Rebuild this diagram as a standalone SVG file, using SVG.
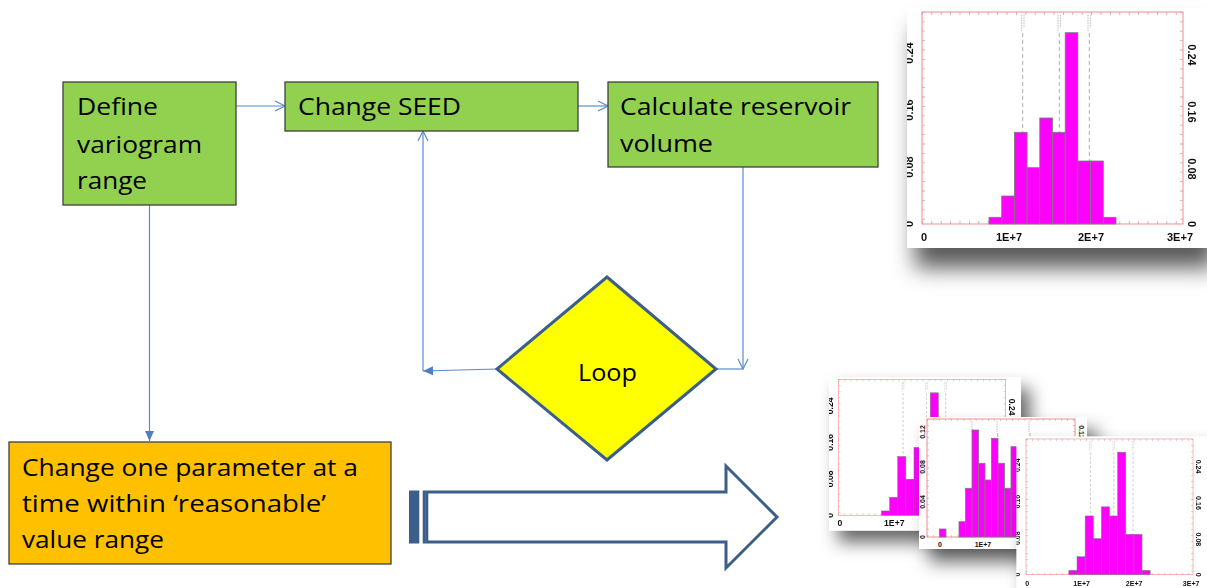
<svg xmlns="http://www.w3.org/2000/svg" xmlns:xlink="http://www.w3.org/1999/xlink" width="1207" height="588" viewBox="0 0 1207 588">
<style>
.box{stroke:#404040;stroke-width:1.3}
.green{fill:#92D050}
.orange{fill:#FFC000}
.lbl{font-family:"Open Sans","Liberation Sans",sans-serif;font-size:23px;fill:#000}
.conn{fill:none;stroke:#5B8BC9;stroke-width:1.2}
.card{fill:#fff}
.frame{fill:none;stroke:#F28C8C;stroke-width:1}
.tk{stroke:#C9A3A3;stroke-width:3;stroke-dasharray:0.8 8.6}
.bar{fill:#FF00FF;stroke:#7a7a7a;stroke-width:0.8}
.dash{stroke:#A8A8A8;stroke-width:0.9;stroke-dasharray:4 3}
.fuzz{stroke:#C8C8C8;stroke-width:1.2;stroke-dasharray:1.5 1}
.ax{font-family:"Liberation Sans",Arial,sans-serif;font-weight:bold;fill:#111}
.axs{font-family:"Liberation Sans",Arial,sans-serif;font-weight:bold;font-size:7px;fill:#111}
</style>
<defs>
<marker id="open" markerUnits="userSpaceOnUse" markerWidth="12" markerHeight="12" viewBox="-1 -6 12 12" refX="10" refY="0" orient="auto">
<path d="M0,-5 L10,0 L0,5" fill="none" stroke="#5B8BC9" stroke-width="1.2"/>
</marker>
<marker id="solid" markerUnits="userSpaceOnUse" markerWidth="12" markerHeight="12" viewBox="-1 -6 12 12" refX="10" refY="0" orient="auto">
<path d="M0,-4.5 L10,0 L0,4.5 Z" fill="#4F7FBE"/>
</marker>
<filter id="shadow" x="-20%" y="-20%" width="170%" height="170%">
<feDropShadow dx="10" dy="13" stdDeviation="9" flood-color="#000" flood-opacity="0.6"/>
</filter>
<filter id="shadowS" x="-20%" y="-20%" width="170%" height="170%">
<feDropShadow dx="14" dy="18" stdDeviation="13" flood-color="#000" flood-opacity="0.6"/>
</filter>
<filter id="shadowT" x="-20%" y="-20%" width="170%" height="170%">
<feDropShadow dx="8" dy="20" stdDeviation="11" flood-color="#000" flood-opacity="0.65"/>
</filter>
<clipPath id="cardclip"><rect x="0" y="0" width="300" height="240"/></clipPath>
<g id="hist1">
<rect class="card" x="0" y="0" width="300" height="240"/>
<g clip-path="url(#cardclip)">
<text class="ax" text-anchor="middle" transform="translate(6,45) rotate(-90)">0.24</text>
<text class="ax" text-anchor="middle" transform="translate(6,102) rotate(-90)">0.16</text>
<text class="ax" text-anchor="middle" transform="translate(6,159) rotate(-90)">0.08</text>
<text class="ax" text-anchor="middle" transform="translate(6,216) rotate(-90)">0</text>
</g>
<line class="tk" x1="15" y1="5.5" x2="276" y2="5.5"/>
<line class="tk" x1="15" y1="214.5" x2="276" y2="214.5"/>
<line class="tk" x1="16.5" y1="4" x2="16.5" y2="216"/>
<line class="tk" x1="274.5" y1="4" x2="274.5" y2="216"/>
<rect class="frame" x="15" y="4" width="261" height="212"/>
<line class="fuzz" x1="114.5" y1="7" x2="114.5" y2="23"/>
<line class="fuzz" x1="117" y1="7" x2="117" y2="20"/>
<line class="fuzz" x1="151" y1="7" x2="151" y2="23"/>
<line class="fuzz" x1="153.5" y1="7" x2="153.5" y2="20"/>
<line class="fuzz" x1="181" y1="7" x2="181" y2="23"/>
<line class="fuzz" x1="183.5" y1="7" x2="183.5" y2="20"/>
<line class="dash" x1="115.7" y1="25" x2="115.7" y2="216"/>
<line class="dash" x1="152.3" y1="25" x2="152.3" y2="216"/>
<line class="dash" x1="182.3" y1="25" x2="182.3" y2="216"/>
<rect class="bar" x="82" y="209.3" width="12.7" height="6.7"/>
<rect class="bar" x="94.7" y="188" width="12.7" height="28"/>
<rect class="bar" x="107.4" y="124.3" width="12.7" height="91.7"/>
<rect class="bar" x="120.1" y="159.7" width="12.7" height="56.3"/>
<rect class="bar" x="132.8" y="110" width="12.7" height="106"/>
<rect class="bar" x="145.5" y="124.3" width="12.7" height="91.7"/>
<rect class="bar" x="158.2" y="24.7" width="12.7" height="191.3"/>
<rect class="bar" x="170.9" y="153" width="12.7" height="63"/>
<rect class="bar" x="183.6" y="153" width="12.7" height="63"/>
<rect class="bar" x="196.3" y="209.3" width="12.7" height="6.7"/>
<text class="ax" text-anchor="middle" transform="translate(281,47) rotate(90)">0.24</text>
<text class="ax" text-anchor="middle" transform="translate(281,104) rotate(90)">0.16</text>
<text class="ax" text-anchor="middle" transform="translate(281,161) rotate(90)">0.08</text>
<text class="ax" text-anchor="middle" transform="translate(281,216) rotate(90)">0</text>
<text class="ax" text-anchor="middle" x="17" y="233">0</text>
<text class="ax" text-anchor="middle" x="102" y="233">1E+7</text>
<text class="ax" text-anchor="middle" x="184" y="233">2E+7</text>
<text class="ax" text-anchor="middle" x="273" y="233">3E+7</text>
</g>
</defs>

<g id="connectors">
<path class="conn" d="M236,106 H285" marker-end="url(#open)"/>
<path class="conn" d="M578,106 H608" marker-end="url(#open)"/>
<path class="conn" d="M149.5,205 V441" marker-end="url(#solid)"/>
<path class="conn" d="M743,167 V369" marker-end="url(#open)"/>
<path class="conn" d="M716,369 H743"/>
<path class="conn" d="M497,369 L423,371" marker-end="url(#solid)"/>
<path class="conn" d="M423,371 V131" marker-end="url(#open)"/>
</g>

<g id="node-define">
<rect class="box green" x="63" y="82" width="173" height="123"/>
<text class="lbl" x="77" y="115" textLength="81" lengthAdjust="spacingAndGlyphs">Define</text>
<text class="lbl" x="77" y="153" textLength="125" lengthAdjust="spacingAndGlyphs">variogram</text>
<text class="lbl" x="77" y="189" textLength="70" lengthAdjust="spacingAndGlyphs">range</text>
</g>

<g id="node-seed">
<rect class="box green" x="285" y="82" width="293" height="49"/>
<text class="lbl" x="298" y="115" textLength="163" lengthAdjust="spacingAndGlyphs">Change SEED</text>
</g>

<g id="node-calc">
<rect class="box green" x="608" y="82" width="270" height="85"/>
<text class="lbl" x="620" y="115" textLength="231" lengthAdjust="spacingAndGlyphs">Calculate reservoir</text>
<text class="lbl" x="620" y="152" textLength="93" lengthAdjust="spacingAndGlyphs">volume</text>
</g>

<g id="node-loop">
<polygon points="607,277 716,369 607,460 497,369" fill="#FFFF00" stroke="#3B5F8A" stroke-width="3"/>
<text class="lbl" x="578" y="381" textLength="59" lengthAdjust="spacingAndGlyphs">Loop</text>
</g>

<g id="node-change">
<rect class="box orange" x="9" y="442" width="382" height="122"/>
<text class="lbl" x="22" y="476" textLength="336" lengthAdjust="spacingAndGlyphs">Change one parameter at a</text>
<text class="lbl" x="22" y="512" textLength="304" lengthAdjust="spacingAndGlyphs">time within ‘reasonable’</text>
<text class="lbl" x="22" y="548" textLength="142" lengthAdjust="spacingAndGlyphs">value range</text>
</g>

<g id="big-arrow">
<polygon points="426.8,492 726,492 726,466 777,517 726,568 726,542 426.8,542" fill="#fff" stroke="#3B5F8A" stroke-width="3" stroke-linejoin="miter"/>
<rect x="409" y="490.5" width="10.3" height="53" fill="#3B5F8A"/>
<rect x="422.7" y="490.5" width="3" height="53" fill="#3B5F8A"/>
</g>

<g id="histogram-top">
<use xlink:href="#hist1" href="#hist1" transform="translate(907,8)" font-size="11" filter="url(#shadowT)"/>
</g>

<g id="histogram-stack">
<use xlink:href="#hist1" href="#hist1" transform="translate(829,377) scale(0.64)" font-size="13.5" filter="url(#shadowS)"/>
<g id="hist-b" filter="url(#shadow)">
<rect class="card" x="919" y="417" width="168" height="132"/>
</g>
<g>
<text class="axs" text-anchor="middle" transform="translate(925,432) rotate(-90)">0.12</text>
<text class="axs" text-anchor="middle" transform="translate(925,467) rotate(-90)">0.08</text>
<text class="axs" text-anchor="middle" transform="translate(925,502) rotate(-90)">0.04</text>
<text class="axs" text-anchor="middle" transform="translate(925,537) rotate(-90)">0</text>
<line class="tk" x1="927" y1="420" x2="1075" y2="420" style="stroke-width:2;stroke-dasharray:0.6 5.5"/>
<line class="tk" x1="927" y1="536" x2="1075" y2="536" style="stroke-width:2;stroke-dasharray:0.6 5.5"/>
<line class="tk" x1="928" y1="419" x2="928" y2="537" style="stroke-width:2;stroke-dasharray:0.6 5.5"/>
<line class="tk" x1="1074" y1="419" x2="1074" y2="537" style="stroke-width:2;stroke-dasharray:0.6 5.5"/>
<rect class="frame" x="927" y="419" width="148" height="118"/>
<line class="fuzz" x1="972" y1="421" x2="972" y2="432"/>
<line class="fuzz" x1="997" y1="421" x2="997" y2="432"/>
<line class="fuzz" x1="1029" y1="421" x2="1029" y2="432"/>
<line class="dash" x1="972.7" y1="433" x2="972.7" y2="537"/>
<line class="dash" x1="997.7" y1="433" x2="997.7" y2="537"/>
<line class="dash" x1="1030" y1="433" x2="1030" y2="537"/>
<rect class="bar" x="939.5" y="529" width="6.5" height="8"/>
<rect class="bar" x="959" y="521.7" width="6.5" height="15.3"/>
<rect class="bar" x="965.5" y="488.3" width="6.5" height="48.7"/>
<rect class="bar" x="972" y="430" width="6.5" height="107"/>
<rect class="bar" x="978.5" y="463.3" width="6.5" height="73.7"/>
<rect class="bar" x="985" y="480" width="6.5" height="57"/>
<rect class="bar" x="991.5" y="438.3" width="6.5" height="98.7"/>
<rect class="bar" x="998" y="463.3" width="6.5" height="73.7"/>
<rect class="bar" x="1004.5" y="488.3" width="6.5" height="48.7"/>
<rect class="bar" x="1011" y="446.7" width="6.5" height="90.3"/>
<text class="axs" text-anchor="middle" transform="translate(1079,432) rotate(90)">0.12</text>
<text class="axs" text-anchor="middle" x="940" y="547">0</text>
<text class="axs" text-anchor="middle" x="983" y="547">1E+7</text>
</g>
<use xlink:href="#hist1" href="#hist1" transform="translate(1016.4,436.4) scale(0.64)" font-size="11" filter="url(#shadowS)"/>
</g>
</svg>
